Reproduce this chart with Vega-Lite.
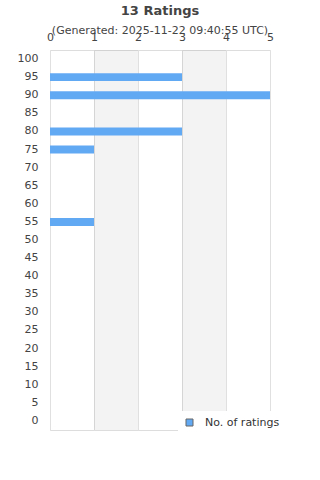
{
  "$schema": "https://vega.github.io/schema/vega-lite/v6.json",
  "width": 220,
  "height": 380,
  "autosize": {"type": "none"},
  "padding": {"left": 50, "top": 50, "right": 50, "bottom": 50},
  "background": "white",
  "title": {
    "text": "13 Ratings",
    "subtitle": "(Generated: 2025-11-22 09:40:55 UTC)",
    "anchor": "middle",
    "frame": "group",
    "font": "DejaVu Sans",
    "fontSize": 13,
    "fontWeight": "bold",
    "color": "#444444",
    "subtitleFont": "DejaVu Sans",
    "subtitleFontSize": 11,
    "subtitleColor": "#444444",
    "subtitlePadding": 7,
    "offset": -5
  },
  "config": {
    "view": {"stroke": "#dddddd"},
    "font": "DejaVu Sans"
  },
  "datasets": {
    "ratings": [
      {"rating": 95, "count": 3},
      {"rating": 90, "count": 5},
      {"rating": 80, "count": 3},
      {"rating": 75, "count": 1},
      {"rating": 55, "count": 1}
    ],
    "bands": [
      {"start": 1, "end": 2},
      {"start": 3, "end": 4}
    ]
  },
  "layer": [
    {
      "data": {"name": "bands"},
      "mark": {"type": "rect", "color": "#000000", "opacity": 0.047},
      "encoding": {
        "x": {
          "field": "start",
          "type": "quantitative",
          "scale": {"domain": [0, 5], "nice": false},
          "axis": {
            "orient": "top",
            "values": [0, 1, 2, 3, 4, 5],
            "title": null,
            "ticks": false,
            "tickSize": 0,
            "domain": false,
            "grid": true,
            "gridColor": "#e0e0e0",
            "labelFlush": false,
            "labelPadding": 8,
            "labelFontSize": 11,
            "labelFont": "DejaVu Sans",
            "labelColor": "#444444"
          }
        },
        "x2": {"field": "end"}
      }
    },
    {
      "data": {"name": "ratings"},
      "mark": {"type": "bar", "opacity": 1},
      "encoding": {
        "y": {
          "field": "rating",
          "type": "ordinal",
          "scale": {
            "domain": [100, 95, 90, 85, 80, 75, 70, 65, 60, 55, 50, 45, 40, 35, 30, 25, 20, 15, 10, 5, 0],
            "paddingInner": 0.56,
            "paddingOuter": 0.28
          },
          "axis": {
            "title": null,
            "ticks": false,
            "tickSize": 0,
            "domain": false,
            "grid": false,
            "labelPadding": 12,
            "labelFontSize": 11,
            "labelFont": "DejaVu Sans",
            "labelColor": "#444444"
          }
        },
        "x": {"field": "count", "type": "quantitative"},
        "color": {
          "datum": "No. of ratings",
          "type": "nominal",
          "scale": {"range": ["#62a9f3"]},
          "legend": {
            "orient": "none",
            "legendX": 128,
            "legendY": 361,
            "title": null,
            "fillColor": "white",
            "padding": 6,
            "symbolType": "square",
            "symbolSize": 49,
            "symbolStrokeColor": "#666666",
            "symbolStrokeWidth": 1,
            "symbolOpacity": 1,
            "labelFontSize": 11,
            "labelFont": "DejaVu Sans",
            "labelColor": "#333333",
            "labelOffset": 10
          }
        }
      }
    }
  ]
}
